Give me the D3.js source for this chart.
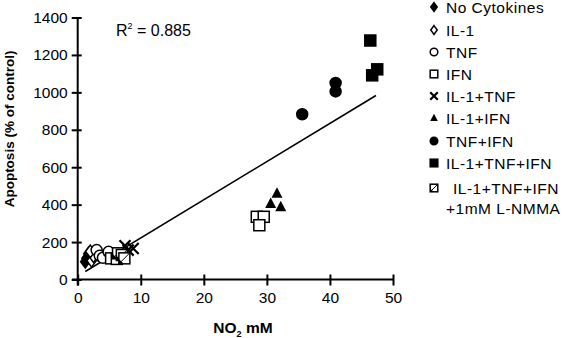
<!DOCTYPE html>
<html><head><meta charset="utf-8">
<script src="https://cdn.jsdelivr.net/npm/d3@7"></script>
<style>body{margin:0;background:#fff}svg{display:block}</style>
</head><body><svg id="c" width="563" height="338"></svg>
<script>
const xTicks = [0,10,20,30,40,50];
const yTicks = [0,200,400,600,800,1000,1200,1400];
const seriesNames = ["No Cytokines","IL-1","TNF","IFN","IL-1+TNF","IL-1+IFN","TNF+IFN","IL-1+TNF+IFN","IL-1+TNF+IFN|+1mM L-NMMA"];
const seriesSymbols = ["diamondFill","diamondOpen","circleOpen","squareOpen","times","triangle","circleFill","squareFill","squareHalf"];
const noCytoX = [1.2, 1.4, 1.7], noCytoY = [95, 113, 138];
const il1X = [2.2, 2.5, 2.0], il1Y = [100, 125, 150];
const tnfX = [3.0, 3.5, 4.0, 4.9], tnfY = [157, 127, 116, 148];
const ifnX = [5.3, 6.2, 28.4, 29.5, 28.8], ifnY = [113, 110, 335, 335, 290];
const il1tnfX = [7.5, 8.8, 8.0], il1tnfY = [180, 166, 157];
const il1ifnX = [31.6, 30.6, 32.2], il1ifnY = [460, 406, 388];
const tnfifnX = [40.9, 40.9, 35.6], tnfifnY = [1050, 1005, 883];
const allX = [46.4, 47.5, 46.7], allY = [1277, 1123, 1091];
const lnmmaX = [6.4, 7.0, 7.4], lnmmaY = [140, 131, 113];
const fitX = [1.2, 47.3];
const fitSlope = 20.4, fitIntercept = 18;
const r2Label = "0.885";

const seriesX = [noCytoX, il1X, tnfX, ifnX, il1tnfX, il1ifnX, tnfifnX, allX, lnmmaX];
const seriesY = [noCytoY, il1Y, tnfY, ifnY, il1tnfY, il1ifnY, tnfifnY, allY, lnmmaY];

const svg = d3.select("#c");
const x = d3.scaleLinear().domain([0,50]).range([77.7,393]);
const y = d3.scaleLinear().domain([0,1400]).range([279.5,17.5]);
const font = "'Liberation Sans', Arial, sans-serif";

function drawSym(g, type, s) {
  const k = s;
  if (type === "diamondFill" || type === "diamondOpen") {
    g.append("path").attr("d", `M0,${-k*1.15}L${k*0.85},0L0,${k*1.15}L${-k*0.85},0Z`)
      .attr("fill", type === "diamondFill" ? "#000" : "#fff").attr("stroke","#000").attr("stroke-width",1.5);
  } else if (type === "circleOpen" || type === "circleFill") {
    g.append("circle").attr("r", k).attr("fill", type === "circleFill" ? "#000" : "#fff")
      .attr("stroke","#000").attr("stroke-width",1.5);
  } else if (type === "squareOpen" || type === "squareFill") {
    g.append("rect").attr("x",-k).attr("y",-k).attr("width",2*k).attr("height",2*k)
      .attr("fill", type === "squareFill" ? "#000" : "#fff").attr("stroke","#000").attr("stroke-width",1.5);
  } else if (type === "squareHalf") {
    g.append("rect").attr("x",-k).attr("y",-k).attr("width",2*k).attr("height",2*k)
      .attr("fill","#fff").attr("stroke","#000").attr("stroke-width",1.5);
    g.append("path").attr("d",`M${-k},${k*0.1}L${-k*0.1},${k}L${-k},${k}Z`).attr("fill","#000");
    g.append("line").attr("x1",-k).attr("y1",k).attr("x2",k).attr("y2",-k).attr("stroke","#000").attr("stroke-width",1);
  } else if (type === "times") {
    g.append("path").attr("d",`M${-k},${-k}L${k},${k}M${-k},${k}L${k},${-k}`)
      .attr("stroke","#000").attr("stroke-width",2.2).attr("fill","none");
  } else if (type === "triangle") {
    g.append("path").attr("d",`M0,${-k*1.1}L${k},${k*0.8}L${-k},${k*0.8}Z`).attr("fill","#000");
  }
}

// axes
const xAxis = svg.append("g").attr("transform",`translate(0,${y(0)})`)
  .call(d3.axisBottom(x).tickValues(xTicks).tickFormat(d3.format("d")).tickSize(0).tickPadding(12));
xAxis.select(".domain").attr("d",`M72,0H${x(50)}`).attr("stroke-width",2);
xAxis.selectAll(".tick").append("line").attr("y1",-5).attr("y2",6).attr("stroke","#000").attr("stroke-width",2);
xAxis.selectAll("text").attr("font-family",font).attr("font-size",15.5).attr("fill","#000");

const yAxis = svg.append("g").attr("transform",`translate(${x(0)},0)`)
  .call(d3.axisLeft(y).tickValues(yTicks).tickFormat(d3.format("d")).tickSize(0).tickPadding(10));
yAxis.select(".domain").attr("d",`M0,${y(0)+6}V${y(1400)}`).attr("stroke-width",2);
yAxis.selectAll(".tick").append("line").attr("x1",-6).attr("x2",4).attr("stroke","#000").attr("stroke-width",2);
yAxis.selectAll("text").attr("font-family",font).attr("font-size",15.5).attr("fill","#000");

// fit line
svg.append("line").attr("x1",x(fitX[0])).attr("y1",y(fitSlope*fitX[0]+fitIntercept))
  .attr("x2",x(fitX[1])).attr("y2",y(fitSlope*fitX[1]+fitIntercept))
  .attr("stroke","#000").attr("stroke-width",1.6);

// points
seriesX.forEach((xs,i)=>{
  xs.forEach((v,j)=>{
    const g = svg.append("g").attr("transform",`translate(${x(v)},${y(seriesY[i][j])})`);
    drawSym(g, seriesSymbols[i], 5.5);
  });
});

// R2
const r2 = svg.append("text").attr("x",116).attr("y",36).attr("font-family",font).attr("font-size",16).attr("fill","#000");
r2.append("tspan").text("R");
r2.append("tspan").attr("font-size",9).attr("dy",-7).text("2");
r2.append("tspan").attr("dy",7).text(" = " + r2Label);

// axis titles
svg.append("text").attr("transform",`translate(14,129) rotate(-90)`)
  .attr("text-anchor","middle").attr("font-family",font).attr("font-weight","bold").attr("font-size",13.5)
  .text("Apoptosis (% of control)");
const xt = svg.append("text").attr("x",243).attr("y",333).attr("text-anchor","middle")
  .attr("font-family",font).attr("font-weight","bold").attr("font-size",15.5);
xt.append("tspan").text("NO");
xt.append("tspan").attr("font-size",9).attr("dy",4).text("2");
xt.append("tspan").attr("dy",-4).text(" mM");

// legend
const legY = [7, 30, 52, 74, 96, 118, 141, 163, 188];
seriesNames.forEach((n,i)=>{
  const g = svg.append("g").attr("transform",`translate(434,${legY[i]})`);
  drawSym(g, seriesSymbols[i], 3.8);
  const parts = n.split("|");
  const t = svg.append("text").attr("x",446).attr("y",legY[i]+5.5).attr("font-family",font)
    .attr("font-size",15.5).attr("letter-spacing",0.5).attr("fill","#000");
  parts.forEach((p,k)=>{
    t.append("tspan").attr("x", k===0 ? (parts.length>1?453:446) : 446).attr("dy", k===0?0:20).text(p);
  });
});
</script></body></html>
